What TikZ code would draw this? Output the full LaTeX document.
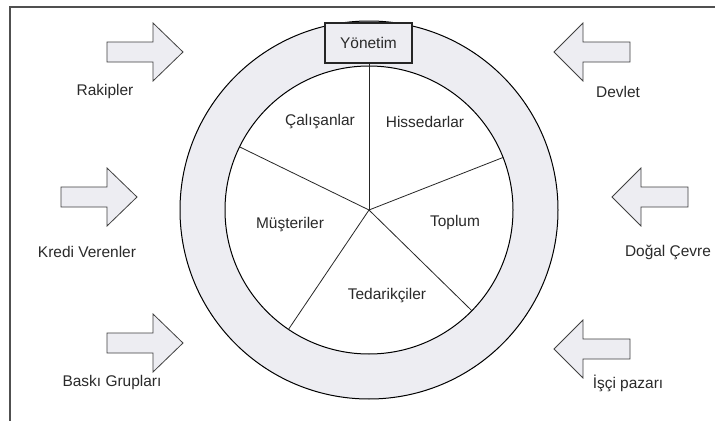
\documentclass[tikz,border=0pt]{standalone}
\usepackage{fontspec}
\setmainfont{Liberation Sans}
\definecolor{ringfill}{HTML}{EDEDF2}
\definecolor{txt}{HTML}{2A2A2A}
\definecolor{frame}{HTML}{505050}
\begin{document}
\begin{tikzpicture}[x=0.75pt,y=-0.75pt,
  lbl/.style={text=txt,font=\fontsize{11.6}{13}\selectfont,inner sep=0pt},
  rarrow/.style={draw=black!75,line width=0.6pt,fill=ringfill,line join=miter},
  ringline/.style={draw=black,line width=0.75pt}]
\useasboundingbox (0,0) rectangle (715,421);
\fill[white] (0,0) rectangle (715,421);
% frame (left and top edges)
\draw[frame,line width=1.1pt] (10,421) -- (10,7) -- (715,7);
% ring
\coordinate (c) at (369,210);
\draw[ringline,fill=ringfill] (c) circle[radius=189];
\draw[ringline,fill=white] (c) circle[radius=144];
% spokes
\draw[black!85,line width=0.6pt] (c) -- (369,63);
\foreach \a in {21.4,154,236,315.6}
  \draw[black!85,line width=0.6pt] (c) -- ++(\a:144 and -144);
% Yonetim box
\node[draw=black!85,line width=1pt,fill=ringfill,minimum width=87*0.75pt,minimum height=40*0.75pt,inner sep=0pt,lbl] (yon) at (368.5,43) {Yönetim};
% sector labels
\node[lbl] (cal) at (320,122) {Çalışanlar};
\node[lbl] (his) at (425,122) {Hissedarlar};
\node[lbl] (mus) at (290,225) {Müşteriler};
\node[lbl] (top) at (455,222) {Toplum};
\node[lbl] (ted) at (387,296) {Tedarikçiler};
% left arrows (pointing right)
\draw[rarrow] (107,42) -- (153,42) -- (153,23) -- (183,52) -- (153,81) -- (153,62) -- (107,62) -- cycle;
\draw[rarrow] (61,187) -- (107,187) -- (107,168) -- (137,197) -- (107,226) -- (107,207) -- (61,207) -- cycle;
\draw[rarrow] (107,333) -- (153,333) -- (153,314) -- (183,343) -- (153,372) -- (153,353) -- (107,353) -- cycle;
% right arrows (pointing left)
\draw[rarrow] (630,42) -- (583,42) -- (583,23) -- (554,52) -- (583,81) -- (583,62) -- (630,62) -- cycle;
\draw[rarrow] (688,187) -- (641,187) -- (641,168) -- (612,197) -- (641,226) -- (641,207) -- (688,207) -- cycle;
\draw[rarrow] (630,339) -- (583,339) -- (583,320) -- (554,349) -- (583,378) -- (583,359) -- (630,359) -- cycle;
% outer labels
\node[lbl] (rak) at (105,92) {Rakipler};
\node[lbl] (kre) at (87,252) {Kredi Verenler};
\node[lbl] (bas) at (112,382) {Baskı Grupları};
\node[lbl] (dev) at (618,92) {Devlet};
\node[lbl] (dog) at (668,252) {Doğal Çevre};
\node[lbl] (isc) at (628,383) {İşçi pazarı};
\end{tikzpicture}
\end{document}
